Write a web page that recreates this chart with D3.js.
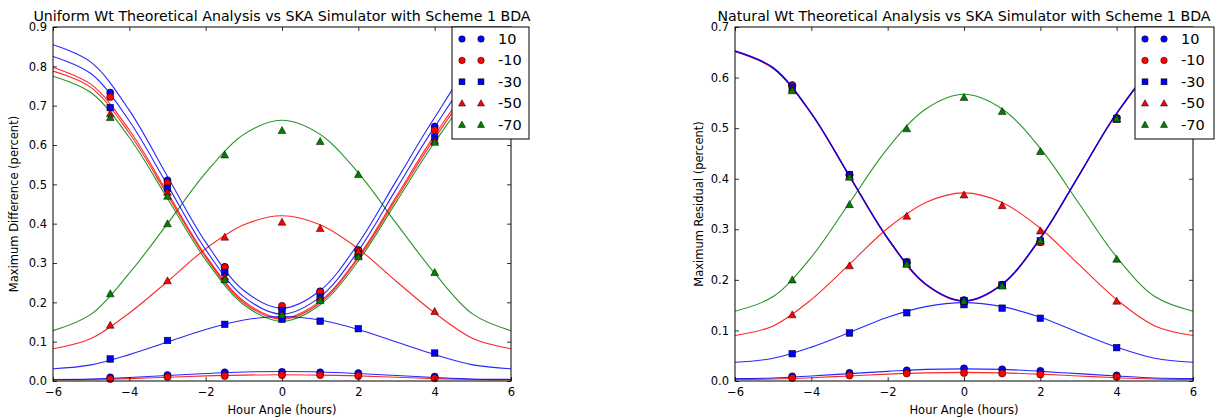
<!DOCTYPE html>
<html><head><meta charset="utf-8">
<script src="https://cdn.jsdelivr.net/npm/d3@7"></script>
<style>
html,body{margin:0;padding:0;background:#fff;}
svg text{font-family:"DejaVu Sans",sans-serif;fill:#000;}
</style></head>
<body><svg id="c" width="1225" height="417"></svg>
<script>
// ---------- data ----------
const declinations = ["10", "-10", "-30", "-50", "-70"];
const seriesColor  = ["#0000ff", "#ff0000", "#0000ff", "#ff0000", "#008000"];
const seriesMarker = ["circle", "circle", "square", "triangle", "triangle"];
const curveHA  = [-6, -5, -4, -3, -2, -1, 0, 1, 2, 3, 4, 5, 6];
const sampleHA = [-4.5, -3, -1.5, 0, 1, 2, 4];
const xTicks = [-6, -4, -2, 0, 2, 4, 6];
const uniformYTicks = [0, 0.1, 0.2, 0.3, 0.4, 0.5, 0.6, 0.7, 0.8, 0.9];
const naturalYTicks = [0, 0.1, 0.2, 0.3, 0.4, 0.5, 0.6, 0.7];

// Uniform weighting: theoretical curves (U-shaped and bell-shaped) per declination
const uniformTheoryU = [
  [0.855, 0.810, 0.688, 0.520, 0.353, 0.230, 0.185, 0.230, 0.350, 0.510, 0.670, 0.805, 0.855],
  [0.797, 0.754, 0.638, 0.479, 0.319, 0.203, 0.160, 0.203, 0.316, 0.470, 0.625, 0.750, 0.797],
  [0.825, 0.781, 0.661, 0.498, 0.334, 0.214, 0.170, 0.214, 0.331, 0.489, 0.646, 0.776, 0.825],
  [0.788, 0.746, 0.630, 0.473, 0.315, 0.199, 0.157, 0.199, 0.312, 0.464, 0.617, 0.741, 0.788],
  [0.775, 0.733, 0.619, 0.464, 0.308, 0.194, 0.152, 0.194, 0.305, 0.456, 0.607, 0.728, 0.775]
];
const uniformTheoryB = [
  [0.004, 0.005, 0.009, 0.014, 0.019, 0.023, 0.024, 0.023, 0.019, 0.014, 0.009, 0.005, 0.004],
  [0.003, 0.004, 0.006, 0.0095, 0.013, 0.015, 0.016, 0.015, 0.013, 0.0095, 0.006, 0.004, 0.003],
  [0.031, 0.041, 0.067, 0.099, 0.131, 0.155, 0.164, 0.155, 0.131, 0.099, 0.067, 0.041, 0.031],
  [0.082, 0.108, 0.173, 0.253, 0.336, 0.397, 0.420, 0.397, 0.336, 0.253, 0.173, 0.108, 0.082],
  [0.128, 0.170, 0.274, 0.400, 0.529, 0.627, 0.663, 0.627, 0.529, 0.400, 0.274, 0.170, 0.128]
];
// Uniform weighting: SKA simulator points
const uniformPointsU = [
  [0.733, 0.510, 0.290, 0.185, 0.228, 0.333, 0.647],
  [0.722, 0.503, 0.289, 0.191, 0.226, 0.332, 0.638],
  [0.695, 0.490, 0.276, 0.178, 0.213, 0.323, 0.620],
  [0.680, 0.480, 0.265, 0.170, 0.210, 0.320, 0.612],
  [0.670, 0.470, 0.258, 0.168, 0.205, 0.316, 0.607]
];
const uniformPointsB = [
  [0.009, 0.015, 0.022, 0.023, 0.022, 0.020, 0.011],
  [0.005, 0.010, 0.013, 0.015, 0.015, 0.013, 0.007],
  [0.056, 0.103, 0.144, 0.157, 0.152, 0.133, 0.071],
  [0.142, 0.255, 0.366, 0.404, 0.388, 0.330, 0.177],
  [0.222, 0.400, 0.575, 0.637, 0.609, 0.525, 0.276]
];

// Natural weighting: theoretical curves
const naturalTheoryU = [
  [0.652, 0.619, 0.529, 0.405, 0.282, 0.191, 0.158, 0.191, 0.282, 0.405, 0.529, 0.619, 0.652],
  [0.652, 0.619, 0.529, 0.405, 0.282, 0.191, 0.158, 0.191, 0.282, 0.405, 0.529, 0.619, 0.652],
  [0.653, 0.620, 0.530, 0.406, 0.283, 0.192, 0.159, 0.192, 0.283, 0.406, 0.530, 0.620, 0.653],
  [0.651, 0.618, 0.528, 0.404, 0.281, 0.190, 0.157, 0.190, 0.281, 0.404, 0.528, 0.618, 0.651],
  [0.652, 0.619, 0.529, 0.405, 0.282, 0.191, 0.158, 0.191, 0.282, 0.405, 0.529, 0.619, 0.652]
];
const naturalTheoryB = [
  [0.005, 0.006, 0.010, 0.0145, 0.019, 0.023, 0.024, 0.023, 0.019, 0.0145, 0.010, 0.006, 0.005],
  [0.003, 0.004, 0.0065, 0.010, 0.0135, 0.016, 0.017, 0.016, 0.0135, 0.010, 0.0065, 0.004, 0.003],
  [0.037, 0.045, 0.067, 0.096, 0.126, 0.147, 0.155, 0.147, 0.126, 0.096, 0.067, 0.045, 0.037],
  [0.090, 0.109, 0.161, 0.231, 0.302, 0.353, 0.372, 0.353, 0.302, 0.231, 0.161, 0.109, 0.090],
  [0.138, 0.167, 0.245, 0.3525, 0.460, 0.538, 0.567, 0.538, 0.460, 0.3525, 0.245, 0.167, 0.138]
];
const naturalPointsU = [
  [0.585, 0.408, 0.235, 0.160, 0.190, 0.275, 0.520],
  [0.583, 0.407, 0.234, 0.159, 0.190, 0.275, 0.520],
  [0.580, 0.408, 0.235, 0.159, 0.190, 0.277, 0.518],
  [0.577, 0.405, 0.232, 0.158, 0.189, 0.275, 0.518],
  [0.574, 0.403, 0.231, 0.158, 0.188, 0.278, 0.519]
];
const naturalPointsB = [
  [0.009, 0.016, 0.021, 0.025, 0.023, 0.020, 0.011],
  [0.006, 0.011, 0.015, 0.016, 0.015, 0.013, 0.008],
  [0.054, 0.095, 0.135, 0.151, 0.144, 0.124, 0.066],
  [0.131, 0.228, 0.326, 0.368, 0.347, 0.297, 0.158],
  [0.200, 0.349, 0.499, 0.561, 0.533, 0.454, 0.241]
];

// ---------- drawing ----------
const svg = d3.select("#c");
const lineDrawOrder = [4, 3, 1, 2, 0];

const panels = [
  {title: "Uniform Wt Theoretical Analysis vs SKA Simulator with Scheme 1 BDA",
   ylabel: "Maximum Difference (percent)", x0: 53, x1: 511, y0: 27, y1: 381,
   ymax: 0.9, yTicks: uniformYTicks, tU: uniformTheoryU, tB: uniformTheoryB,
   pU: uniformPointsU, pB: uniformPointsB, ylabX: 14, legX: 452, legW: 77},
  {title: "Natural Wt Theoretical Analysis vs SKA Simulator with Scheme 1 BDA",
   ylabel: "Maximum Residual (percent)", x0: 735, x1: 1193, y0: 27, y1: 381,
   ymax: 0.7, yTicks: naturalYTicks, tU: naturalTheoryU, tB: naturalTheoryB,
   pU: naturalPointsU, pB: naturalPointsB, ylabX: 699, legX: 1135, legW: 79}
];

function drawMarker(g, type, cx, cy, color, scale) {
  const k = scale || 1;
  if (type === "circle") {
    g.append("circle").attr("cx", cx).attr("cy", cy).attr("r", 3.6 * k)
      .attr("fill", color).attr("stroke", "#000").attr("stroke-width", 0.5);
  } else if (type === "square") {
    const h = 3.3 * k;
    g.append("rect").attr("x", cx - h).attr("y", cy - h).attr("width", 2 * h).attr("height", 2 * h)
      .attr("fill", color).attr("stroke", "#000").attr("stroke-width", 0.5);
  } else {
    const s = 3.9 * k;
    g.append("path").attr("d", `M${cx},${cy - s}L${cx + s},${cy + s * 0.8}L${cx - s},${cy + s * 0.8}Z`)
      .attr("fill", color).attr("stroke", "#000").attr("stroke-width", 0.5);
  }
}

panels.forEach(p => {
  const x = d3.scaleLinear().domain([-6, 6]).range([p.x0, p.x1]);
  const y = d3.scaleLinear().domain([0, p.ymax]).range([p.y1, p.y0]);
  const g = svg.append("g");
  const clipId = "clip" + p.x0;
  svg.append("clipPath").attr("id", clipId).append("rect")
    .attr("x", p.x0).attr("y", p.y0).attr("width", p.x1 - p.x0).attr("height", p.y1 - p.y0);

  const line = d3.line().x((d, i) => x(curveHA[i])).y(d => y(d)).curve(d3.curveCatmullRom.alpha(0.5));
  const lg = g.append("g").attr("clip-path", `url(#${clipId})`);
  lineDrawOrder.forEach(k => {
    lg.append("path").attr("d", line(p.tB[k])).attr("fill", "none")
      .attr("stroke", seriesColor[k]).attr("stroke-width", 1.1).attr("opacity", 0.85);
    lg.append("path").attr("d", line(p.tU[k])).attr("fill", "none")
      .attr("stroke", seriesColor[k]).attr("stroke-width", 1.1).attr("opacity", 0.85);
  });
  const mg = g.append("g");
  declinations.forEach((dname, k) => {
    sampleHA.forEach((h, i) => {
      drawMarker(mg, seriesMarker[k], x(h), y(p.pU[k][i]), seriesColor[k]);
      drawMarker(mg, seriesMarker[k], x(h), y(p.pB[k][i]), seriesColor[k]);
    });
  });

  // frame
  g.append("rect").attr("x", p.x0).attr("y", p.y0).attr("width", p.x1 - p.x0).attr("height", p.y1 - p.y0)
    .attr("fill", "none").attr("stroke", "#000").attr("stroke-width", 1);

  // axes (ticks inward on all sides)
  const fmtX = d => d3.format("d")(d).replace("-", "\u2212");
  const xb = g.append("g").attr("transform", `translate(0,${p.y1})`)
    .call(d3.axisBottom(x).tickValues(xTicks).tickSizeInner(-4).tickSizeOuter(0).tickPadding(7).tickFormat(fmtX));
  const xt = g.append("g").attr("transform", `translate(0,${p.y0})`)
    .call(d3.axisTop(x).tickValues(xTicks).tickSizeInner(-4).tickSizeOuter(0).tickFormat(""));
  const yl = g.append("g").attr("transform", `translate(${p.x0},0)`)
    .call(d3.axisLeft(y).tickValues(p.yTicks).tickSizeInner(-4).tickSizeOuter(0).tickPadding(6).tickFormat(d3.format(".1f")));
  const yr = g.append("g").attr("transform", `translate(${p.x1},0)`)
    .call(d3.axisRight(y).tickValues(p.yTicks).tickSizeInner(-4).tickSizeOuter(0).tickFormat(""));
  [xb, xt, yl, yr].forEach(a => {
    a.select(".domain").remove();
    a.selectAll("line").attr("stroke", "#000").attr("stroke-width", 0.8);
    a.selectAll("text").attr("font-family", "DejaVu Sans").attr("font-size", 11.5).attr("fill", "#000");
  });

  // title and labels
  g.append("text").attr("x", (p.x0 + p.x1) / 2).attr("y", 21).attr("text-anchor", "middle")
    .attr("font-size", 14.2).text(p.title);
  g.append("text").attr("x", (p.x0 + p.x1) / 2).attr("y", 414).attr("text-anchor", "middle")
    .attr("font-size", 11.5).text("Hour Angle (hours)");
  g.append("text").attr("transform", `translate(${p.ylabX},${(p.y0 + p.y1) / 2}) rotate(-90)`)
    .attr("text-anchor", "middle").attr("dominant-baseline", "middle")
    .attr("font-size", 11.5).text(p.ylabel);

  // legend
  const leg = g.append("g");
  const rowH = 21.4, legTop = p.y0;
  leg.append("rect").attr("x", p.legX).attr("y", legTop).attr("width", p.legW).attr("height", 112)
    .attr("fill", "#fff").attr("stroke", "#000").attr("stroke-width", 1);
  declinations.forEach((dname, k) => {
    const cy = legTop + 12 + k * rowH;
    drawMarker(leg, seriesMarker[k], p.legX + 10, cy, seriesColor[k], 0.9);
    drawMarker(leg, seriesMarker[k], p.legX + 29, cy, seriesColor[k], 0.9);
    leg.append("text").attr("x", p.legX + 46).attr("y", cy).attr("dominant-baseline", "central")
      .attr("font-size", 14.5).text(dname);
  });
});
</script></body></html>
